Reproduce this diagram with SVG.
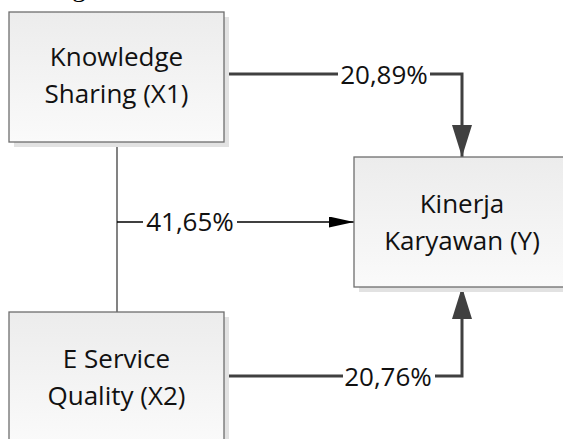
<svg xmlns="http://www.w3.org/2000/svg" width="563" height="439" viewBox="0 0 563 439">
  <defs>
    <linearGradient id="boxFill" x1="0" y1="0" x2="0" y2="1">
      <stop offset="0" stop-color="#ececec"/>
      <stop offset="1" stop-color="#fafafa"/>
    </linearGradient>
    <marker id="bigHead" markerUnits="userSpaceOnUse" markerWidth="32" markerHeight="20" viewBox="0 0 32 20" refX="32" refY="10" orient="auto">
      <path d="M0,0 L32,10 L0,20 Z" fill="#404040"/>
    </marker>
    <marker id="smallHead" markerUnits="userSpaceOnUse" markerWidth="25" markerHeight="11" viewBox="0 0 25 11" refX="25" refY="5.5" orient="auto">
      <path d="M0,0 L25,5.5 L0,11 Z" fill="#000000"/>
    </marker>
  </defs>
  <style>
    .box { fill: url(#boxFill); stroke: #6e6e6e; stroke-width: 1.3; }
    .shadow { fill: #e2e2e2; }
    .label { font-family: "Open Sans", "Liberation Sans", sans-serif; font-size: 26px; fill: #111111; text-anchor: middle; }
    .thick { fill: none; stroke: #404040; stroke-width: 3; marker-end: url(#bigHead); }
    .thin { fill: none; stroke: #000000; stroke-width: 1.3; marker-end: url(#smallHead); }
    .vline { fill: none; stroke: #404040; stroke-width: 1.3; }
    .lblbg { fill: #ffffff; }
  </style>
  <rect width="563" height="439" fill="#ffffff"/>
  <text x="72" y="-4" font-family="Liberation Serif, serif" font-size="28" fill="#000000">g</text>

  <g id="connectors">
    <line class="vline" x1="117" y1="142" x2="117" y2="312"/>
    <polyline class="thick" points="224,74 462,74 462,157"/>
    <polyline class="thick" points="224,376 462,376 462,287"/>
    <line class="thin" x1="117" y1="222" x2="354" y2="222"/>
    <rect class="lblbg" x="338" y="62" width="92" height="26"/>
    <text class="label" x="384" y="84">20,89%</text>
    <rect class="lblbg" x="343" y="364" width="92" height="26"/>
    <text class="label" x="388" y="386">20,76%</text>
    <rect class="lblbg" x="143" y="209" width="94" height="26"/>
    <text class="label" x="190" y="231">41,65%</text>
  </g>

  <g id="node-x1">
    <rect class="shadow" x="14" y="17" width="215" height="130"/>
    <rect class="box" x="9" y="12" width="215" height="130"/>
    <text class="label" x="116.5" y="66">Knowledge</text>
    <text class="label" x="116.5" y="103">Sharing (X1)</text>
  </g>

  <g id="node-x2">
    <rect class="shadow" x="14" y="317" width="215" height="130"/>
    <rect class="box" x="9" y="312" width="215" height="130"/>
    <text class="label" x="116.5" y="368">E Service</text>
    <text class="label" x="116.5" y="405">Quality (X2)</text>
  </g>

  <g id="node-y">
    <rect class="shadow" x="359" y="162" width="216" height="130"/>
    <rect class="box" x="354" y="157" width="216" height="130"/>
    <text class="label" x="462" y="213">Kinerja</text>
    <text class="label" x="462" y="250">Karyawan (Y)</text>
  </g>
</svg>
